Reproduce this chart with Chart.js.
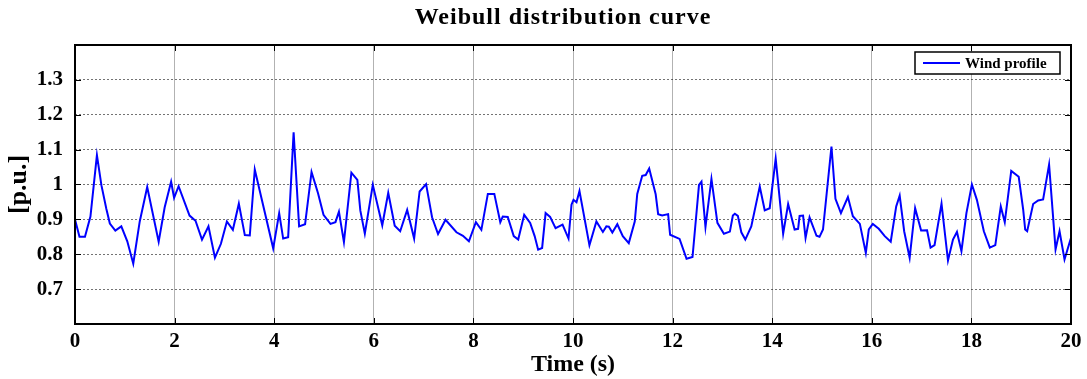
<!DOCTYPE html>
<html>
<head>
<meta charset="utf-8">
<script src="https://cdn.jsdelivr.net/npm/chart.js@4"></script>
<style>
  body { margin: 0; background: #fff; }
  #wrap { width: 1087px; height: 379px; }
</style>
</head>
<body>
<div id="wrap"><canvas id="windChart"></canvas></div>
<script>
// vertices (time in s, value in p.u.)
var times = [0.00, 0.09, 0.20, 0.31, 0.44, 0.53, 0.63, 0.70, 0.81, 0.93, 1.05, 1.17, 1.30, 1.45, 1.68, 1.80, 1.93, 1.99,
    2.08, 2.30, 2.42, 2.55, 2.68, 2.81, 2.93, 3.05, 3.17, 3.29, 3.41, 3.51, 3.61, 3.98, 4.10, 4.18, 4.28, 4.39,
    4.50, 4.62, 4.75, 4.88, 4.99, 5.13, 5.23, 5.30, 5.40, 5.55, 5.67, 5.73, 5.82, 5.98, 6.17, 6.29, 6.42, 6.53,
    6.67, 6.81, 6.92, 7.05, 7.17, 7.29, 7.44, 7.66, 7.79, 7.91, 8.05, 8.16, 8.29, 8.42, 8.54, 8.59, 8.69, 8.81,
    8.90, 9.02, 9.14, 9.23, 9.30, 9.38, 9.45, 9.54, 9.65, 9.79, 9.91, 9.97, 10.01, 10.07, 10.13, 10.33, 10.47,
    10.60, 10.67, 10.72, 10.79, 10.89, 11.00, 11.12, 11.24, 11.29, 11.39, 11.46, 11.53, 11.66, 11.71, 11.79,
    11.91, 11.95, 12.14, 12.28, 12.40, 12.53, 12.58, 12.66, 12.78, 12.90, 13.03, 13.15, 13.21, 13.25, 13.31,
    13.38, 13.46, 13.58, 13.75, 13.85, 13.95, 14.07, 14.22, 14.32, 14.45, 14.52, 14.55, 14.62, 14.67, 14.75,
    14.89, 14.95, 15.02, 15.19, 15.27, 15.38, 15.52, 15.62, 15.76, 15.88, 15.94, 16.02, 16.14, 16.26, 16.38,
    16.49, 16.56, 16.65, 16.76, 16.87, 16.99, 17.11, 17.18, 17.26, 17.40, 17.53, 17.63, 17.71, 17.80, 17.90,
    18.01, 18.11, 18.25, 18.37, 18.48, 18.59, 18.67, 18.80, 18.95, 19.04, 19.08, 19.12, 19.24, 19.34, 19.44,
    19.56, 19.69, 19.77, 19.87, 20.00];
var windProfile = [0.900, 0.850, 0.850, 0.908, 1.084, 0.998, 0.930, 0.888, 0.868, 0.880, 0.837, 0.773, 0.894, 0.993,
    0.836, 0.934, 1.008, 0.962, 0.995, 0.911, 0.896, 0.842, 0.880, 0.790, 0.830, 0.894, 0.870, 0.945, 0.855, 0.854,
    1.043, 0.817, 0.918, 0.845, 0.849, 1.150, 0.880, 0.886, 1.036, 0.975, 0.913, 0.887, 0.892, 0.922, 0.835, 1.034,
    1.013, 0.925, 0.859, 0.999, 0.883, 0.976, 0.882, 0.866, 0.927, 0.845, 0.980, 1.001, 0.906, 0.858, 0.899, 0.863,
    0.853, 0.837, 0.892, 0.870, 0.973, 0.973, 0.892, 0.908, 0.907, 0.852, 0.842, 0.913, 0.890, 0.852, 0.813, 0.818,
    0.918, 0.907, 0.875, 0.885, 0.845, 0.942, 0.956, 0.949, 0.981, 0.826, 0.894, 0.864, 0.880, 0.879, 0.862, 0.886,
    0.852, 0.832, 0.894, 0.973, 1.025, 1.027, 1.046, 0.972, 0.915, 0.911, 0.915, 0.856, 0.844, 0.787, 0.792, 0.999,
    1.008, 0.878, 1.016, 0.890, 0.859, 0.865, 0.911, 0.916, 0.910, 0.863, 0.842, 0.880, 0.994, 0.926, 0.932, 1.074,
    0.859, 0.944, 0.871, 0.873, 0.910, 0.911, 0.847, 0.906, 0.853, 0.850, 0.871, 1.109, 0.959, 0.918, 0.964, 0.909,
    0.887, 0.804, 0.871, 0.887, 0.873, 0.852, 0.836, 0.937, 0.968, 0.866, 0.790, 0.932, 0.868, 0.869, 0.819, 0.826,
    0.945, 0.782, 0.842, 0.864, 0.809, 0.918, 1.000, 0.956, 0.866, 0.819, 0.826, 0.937, 0.892, 1.039, 1.022, 0.928,
    0.871, 0.866, 0.944, 0.954, 0.957, 1.057, 0.814, 0.866, 0.785, 0.847];

var xTicks = [0, 2, 4, 6, 8, 10, 12, 14, 16, 18, 20];
var yTicks = [0.6, 0.7, 0.8, 0.9, 1.0, 1.1, 1.2, 1.3, 1.4];
var chartTitle = "Weibull distribution curve";

var points = times.map(function (t, i) { return { x: t, y: windProfile[i] }; });
var serif = "'Liberation Serif', 'Times New Roman', serif";

// title over the plot, box around the plot, inward tick marks, legend inside top-right
var matlabFrame = {
    id: "matlabFrame",
    beforeDraw: function (chart) {
        var c = chart.ctx, a = chart.chartArea;
        c.save();
        c.fillStyle = "#000";
        c.font = "bold 24px " + serif;
        c.letterSpacing = "1px";
        c.textAlign = "center";
        c.textBaseline = "middle";
        c.fillText(chartTitle, (a.left + a.right) / 2 - 10, 18);
        c.restore();
    },
    afterDatasetsDraw: function (chart) {
        var c = chart.ctx, a = chart.chartArea;
        var xs = chart.scales.x, ys = chart.scales.y;
        c.save();
        c.strokeStyle = "#000";
        c.lineWidth = 1;
        c.beginPath();
        xTicks.forEach(function (v) {
            var px = Math.round(xs.getPixelForValue(v)) + 0.5;
            c.moveTo(px, a.bottom); c.lineTo(px, a.bottom - 6);
            c.moveTo(px, a.top); c.lineTo(px, a.top + 6);
        });
        yTicks.forEach(function (v) {
            var py = Math.round(ys.getPixelForValue(v)) + 0.5;
            c.moveTo(a.left, py); c.lineTo(a.left + 6, py);
            c.moveTo(a.right, py); c.lineTo(a.right - 6, py);
        });
        c.stroke();
        c.lineWidth = 2;
        c.strokeRect(a.left, a.top, a.right - a.left, a.bottom - a.top);

        // legend
        var ds = chart.data.datasets[0];
        var bx = a.right - 156, by = a.top + 7, bw = 145, bh = 22;
        c.fillStyle = "#fff";
        c.fillRect(bx, by, bw, bh);
        c.lineWidth = 1.5;
        c.strokeRect(bx, by, bw, bh);
        c.strokeStyle = ds.borderColor;
        c.lineWidth = 2;
        c.beginPath();
        c.moveTo(bx + 8, by + bh / 2);
        c.lineTo(bx + 45, by + bh / 2);
        c.stroke();
        c.fillStyle = "#000";
        c.font = "bold 15px " + serif;
        c.textBaseline = "middle";
        c.fillText(ds.label, bx + 50, by + bh / 2 + 1);
        c.restore();
    }
};

new Chart("windChart", {
    type: "scatter",
    data: {
        datasets: [{
            label: "Wind profile",
            data: points,
            showLine: true,
            borderColor: "#0000ff",
            borderWidth: 2,
            pointRadius: 0,
            tension: 0,
            fill: false
        }]
    },
    options: {
        responsive: true,
        maintainAspectRatio: false,
        animation: false,
        layout: { padding: { left: 0, right: 16, top: 45, bottom: 0 } },
        plugins: {
            legend: { display: false },
            tooltip: { enabled: false },
            title: { display: false }
        },
        scales: {
            x: {
                type: "linear",
                min: 0,
                max: 20,
                afterBuildTicks: function (s) { s.ticks = xTicks.map(function (v) { return { value: v }; }); },
                afterFit: function (s) { s.height = 55; },
                ticks: {
                    color: "#000",
                    font: { family: serif, size: 21, weight: "bold" },
                    padding: 5,
                    maxRotation: 0
                },
                grid: { color: "rgba(0,0,0,0.3)", drawTicks: false, tickLength: 0 },
                border: { display: false },
                title: {
                    display: true,
                    text: "Time (s)",
                    color: "#000",
                    font: { family: serif, size: 24, weight: "bold" },
                    padding: { top: 0, bottom: 0 }
                }
            },
            y: {
                min: 0.6,
                max: 1.4,
                afterBuildTicks: function (s) { s.ticks = yTicks.map(function (v) { return { value: v }; }); },
                afterFit: function (s) { s.width = 75; },
                ticks: {
                    color: "#000",
                    font: { family: serif, size: 21, weight: "bold" },
                    padding: 12,
                    callback: function (v) {
                        if (v < 0.65 || v > 1.35) return "";
                        return Math.abs(v - 1) < 1e-6 ? "1" : v.toFixed(1);
                    }
                },
                grid: { color: "rgba(0,0,0,0.55)", borderDash: [2, 2], drawTicks: false, tickLength: 0 },
                border: { display: false, dash: [2, 2] },
                title: {
                    display: true,
                    text: "[p.u.]",
                    color: "#000",
                    font: { family: serif, size: 26, weight: "bold" },
                    padding: { top: 4, bottom: 0 }
                }
            }
        }
    },
    plugins: [matlabFrame]
});
</script>
</body>
</html>
